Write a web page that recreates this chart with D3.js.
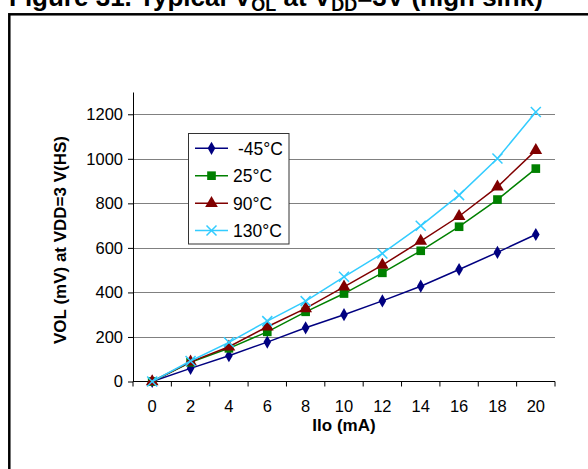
<!DOCTYPE html>
<html><head><meta charset="utf-8">
<script src="https://cdn.jsdelivr.net/npm/d3@7"></script>
<style>body{margin:0;background:#fff}svg{display:block;font-family:"Liberation Sans",Arial,sans-serif}</style>
</head><body>
<svg id="c" width="588" height="469"></svg>
<script>
const categories = ["0","2","4","6","8","10","12","14","16","18","20"];
const seriesNames = ["-45°C","25°C","90°C","130°C"];
const sM45 = [0,59,116,177,241,300,362,428,503,580,660];
const s25  = [0,86,149,223,313,395,488,587,695,817,956];
const s90  = [0,88,156,246,328,425,523,630,742,874,1038];
const s130 = [0,92,176,271,361,470,575,699,837,1001,1210];
const yTicks = [0,200,400,600,800,1000,1200];

const svg = d3.select("#c");
const colors = ["#000080","#008000","#800000","#33CCFF"];
const symbols = [d3.symbolDiamond, d3.symbolSquare, d3.symbolTriangle, "x"];
const series = [sM45, s25, s90, s130];

// outer frame
svg.append("rect").attr("x",9.3).attr("y",14.3).attr("width",700).attr("height",600)
  .attr("fill","none").attr("stroke","#000").attr("stroke-width",2.5);

// title
const t = svg.append("text").attr("x",9).attr("y",5.5).attr("font-size",26).attr("font-weight","bold");
t.append("tspan").text("Figure 31. Typical V");
t.append("tspan").attr("dy",5).attr("font-size",18).text("OL");
t.append("tspan").attr("dy",-5).text(" at V");
t.append("tspan").attr("dy",5).attr("font-size",18).text("DD");
t.append("tspan").attr("dy",-5).text("=3V (high sink)");

const x = d3.scaleBand().domain(categories).range([133,555]).padding(0);
const y = d3.scaleLinear().domain([0,1300]).range([381.5,92]);
const cx = c => x(c) + x.bandwidth()/2;

// gridlines
svg.append("g").selectAll("line").data(yTicks.filter(v=>v>0)).join("line")
  .attr("x1",133).attr("x2",555).attr("y1",d=>Math.round(y(d))+0.5).attr("y2",d=>Math.round(y(d))+0.5)
  .attr("stroke","#808080").attr("stroke-width",1.2);

// y axis
const ya = svg.append("g").attr("transform","translate(133,0)")
  .call(d3.axisLeft(y).tickValues(yTicks).tickFormat(d3.format("d")).tickSize(5).tickSizeOuter(0).tickPadding(5));
ya.selectAll("text").attr("font-size",16.5).attr("fill","#000").attr("font-family","Liberation Sans, Arial");
ya.selectAll("line,path").attr("stroke","#000");

// x axis
svg.append("line").attr("x1",133).attr("x2",555).attr("y1",381.5).attr("y2",381.5).attr("stroke","#000");
const xa = svg.append("g").attr("transform","translate(0,381.5)")
  .call(d3.axisBottom(x).tickSize(0).tickPadding(19));
xa.select(".domain").remove();
xa.selectAll("text").attr("font-size",16.5).attr("fill","#000").attr("font-family","Liberation Sans, Arial");
const bounds = categories.map(c=>x(c)).concat([x.range()[1]]);
svg.append("g").selectAll("line").data(bounds).join("line")
  .attr("x1",d=>d).attr("x2",d=>d).attr("y1",381.5).attr("y2",386.5).attr("stroke","#000");

// axis titles
svg.append("text").attr("x",344).attr("y",431).attr("text-anchor","middle")
  .attr("font-size",17).attr("font-weight","bold").text("Ilo (mA)");
svg.append("text").attr("transform","translate(66,240) rotate(-90)").attr("text-anchor","middle")
  .attr("font-size",17).attr("font-weight","bold").text("VOL (mV) at VDD=3 V(HS)");

function drawMarker(g, i, px, py) {
  if (symbols[i] === "x") {
    const s = 5;
    g.append("path").attr("d",`M${px-s},${py-s}L${px+s},${py+s}M${px-s},${py+s}L${px+s},${py-s}`)
      .attr("stroke",colors[i]).attr("stroke-width",1.5).attr("fill","none");
  } else {
    const size = i===0 ? 50 : (i===1 ? 75 : 70);
    g.append("path").attr("d",d3.symbol().type(symbols[i]).size(size)())
      .attr("transform",`translate(${px},${py})`).attr("fill",colors[i]);
  }
}

// series
const line = d3.line().x((d,j)=>cx(categories[j])).y(d=>y(d));
series.forEach((s,i)=>{
  const g = svg.append("g");
  g.append("path").datum(s).attr("d",line).attr("fill","none").attr("stroke",colors[i]).attr("stroke-width",1.5);
  s.forEach((v,j)=>drawMarker(g,i,cx(categories[j]),y(v)));
});

// legend
const lg = svg.append("g");
lg.append("rect").attr("x",188.5).attr("y",133.5).attr("width",100.5).attr("height",110.5)
  .attr("fill","#fff").attr("stroke","#333").attr("stroke-width",1);
const rowsY = [148.3,175.7,203.3,230.5];
seriesNames.forEach((n,i)=>{
  lg.append("line").attr("x1",195).attr("x2",228).attr("y1",rowsY[i]).attr("y2",rowsY[i])
    .attr("stroke",colors[i]).attr("stroke-width",1.5);
  drawMarker(lg,i,211.5,rowsY[i]);
  lg.append("text").attr("x",i===0?238:233).attr("y",rowsY[i]).attr("dy","0.36em")
    .attr("font-size",17.5).text(n);
});
</script>
</body></html>
